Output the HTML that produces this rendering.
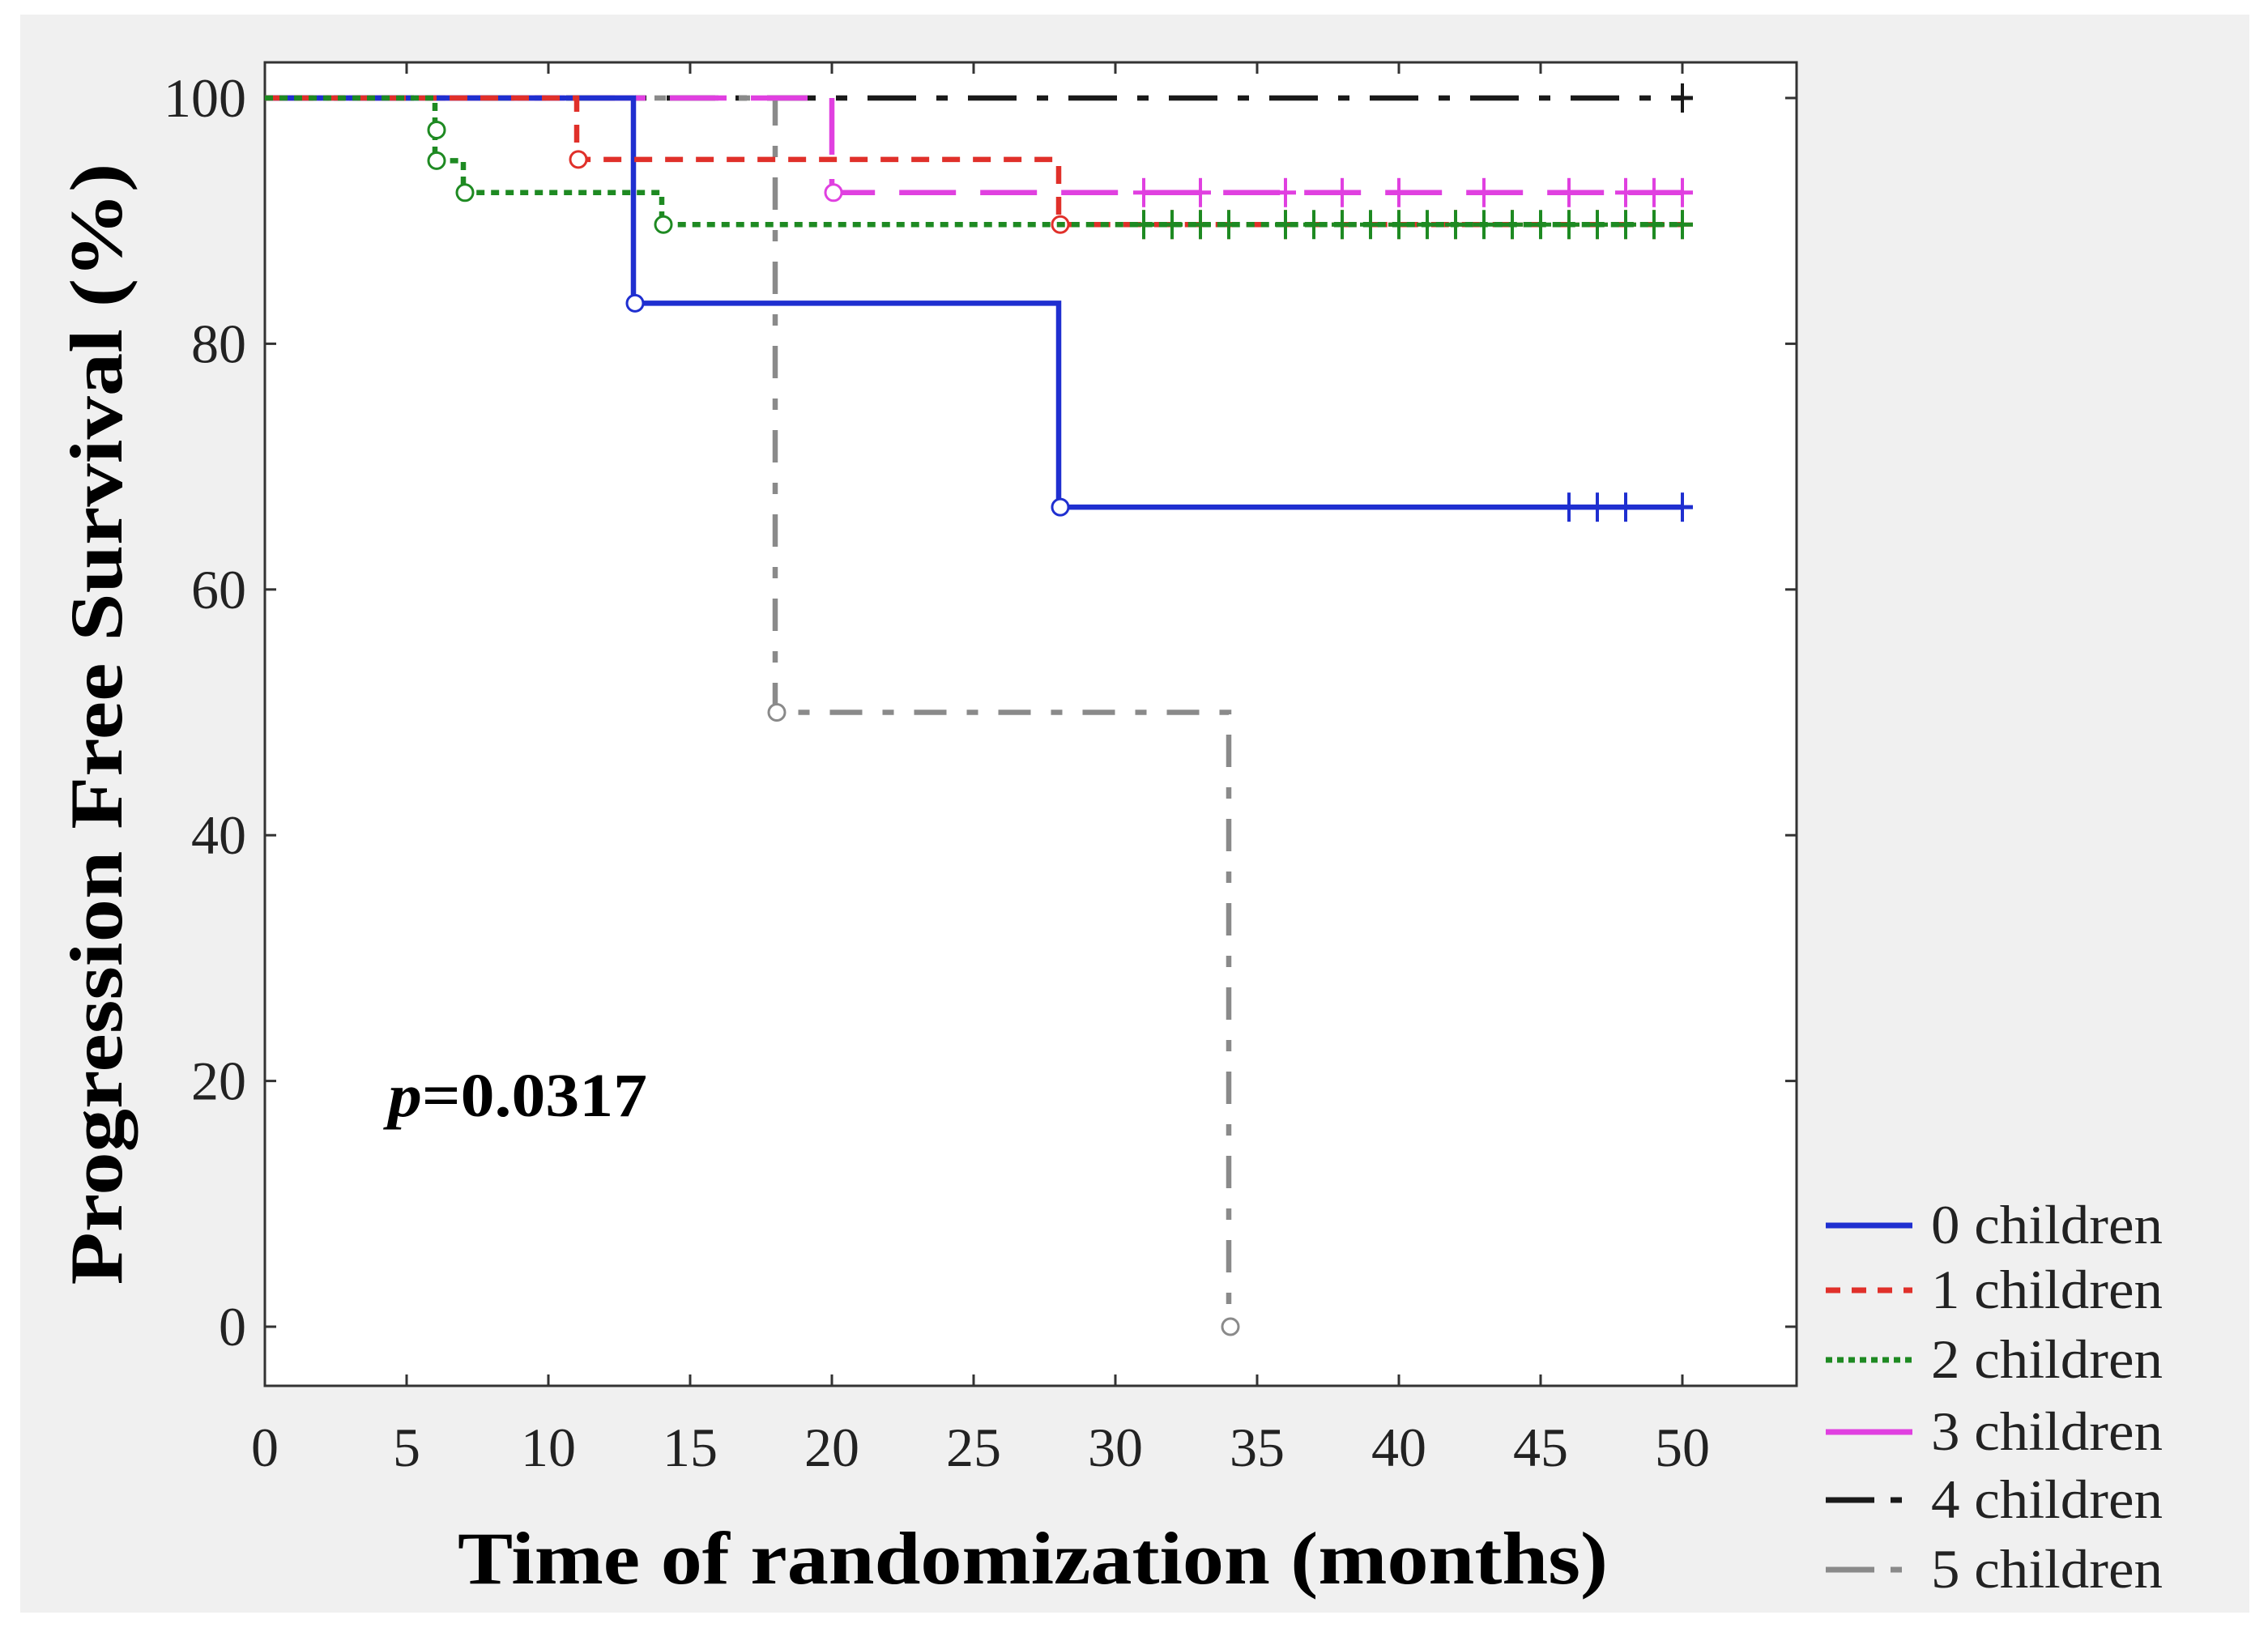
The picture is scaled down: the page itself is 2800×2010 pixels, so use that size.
<!DOCTYPE html>
<html><head><meta charset="utf-8"><style>
html,body{margin:0;padding:0;background:#fff;}
svg{display:block;font-family:"Liberation Serif",serif;}
</style></head><body>
<svg id="chart" width="2800" height="2010" viewBox="0 0 2800 2010" xmlns="http://www.w3.org/2000/svg">
<rect x="25" y="18" width="2752" height="1973" fill="#f0f0f0"/>
<rect x="327" y="77" width="1891" height="1634" fill="#fff" stroke="#333" stroke-width="3"/>
<g id="axes"></g>
<g id="series"></g>
<text transform="translate(150,894) rotate(-90)" text-anchor="middle" font-size="92" font-weight="bold" textLength="1385" lengthAdjust="spacingAndGlyphs">Progression Free Survival (%)</text>
<text x="1275" y="1955" text-anchor="middle" font-size="92" font-weight="bold" textLength="1420" lengthAdjust="spacingAndGlyphs">Time of randomization (months)</text>
<text x="479" y="1378" font-size="76" font-weight="bold" textLength="320" lengthAdjust="spacingAndGlyphs"><tspan font-style="italic">p</tspan>=0.0317</text>
<g id="legend"></g>
</svg>
<script>
const xTicks = [0,5,10,15,20,25,30,35,40,45,50];
const yTicks = [0,20,40,60,80,100];
const seriesNames = ["0 children","1 children","2 children","3 children","4 children","5 children"];
const seriesColors = ["#1f2fd0","#e0302a","#1e8a22","#e040e0","#1a1a1a","#8a8a8a"];
const seriesDash = ["none","22,16","10,8","70,30","60,25,14,25","40,25,14,25"];
// step times and survival values after each step
const s0Times = [13,28]; const s0Vals = [83.3,66.7]; const s0Cens = [46,47,48,50];
const s1Times = [11,28]; const s1Vals = [95,89.7]; const s1Cens = [31,32,33,34,36,38,40,42,44,46,47,48,49,50];
const s2Times = [6,6,7,14]; const s2Vals = [97.4,94.9,92.3,89.7]; const s2Cens = [31,32,33,34,36,37,38,39,40,41,42,43,44,45,46,47,48,49,50];
const s3Times = [20]; const s3Vals = [92.3]; const s3Cens = [31,33,36,38,40,43,46,48,49,50];
const s4Times = []; const s4Vals = []; const s4Cens = [50];
const s5Times = [18,34]; const s5Vals = [50,0]; const s5Cens = [];
const endTimes = [50,50,50,50,50,34];

const NS="http://www.w3.org/2000/svg";
const X0=327,X1=2218,Y0=77,Y1=1711;
function xs(v){return 327+v*35;}
function ys(v){return 1638-v*15.17;}
function mk(tag,attrs,parent){const e=document.createElementNS(NS,tag);for(const k in attrs)e.setAttribute(k,attrs[k]);parent.appendChild(e);return e;}
const axes=document.getElementById('axes');
xTicks.forEach(t=>{
  const g=mk('g',{},axes);
  
  
  mk('line',{x1:xs(t),x2:xs(t),y1:Y1,y2:Y1-14,stroke:'#333','stroke-width':3},g);
  mk('line',{x1:xs(t),x2:xs(t),y1:Y0,y2:Y0+14,stroke:'#333','stroke-width':3},g);
  const tx=mk('text',{x:xs(t),y:1810,'text-anchor':'middle','font-size':68,fill:'#222'},g);tx.textContent=t;
});
yTicks.forEach(t=>{
  const g=mk('g',{},axes);
  
  
  mk('line',{x1:X0,x2:X0+14,y1:ys(t),y2:ys(t),stroke:'#333','stroke-width':3},g);
  mk('line',{x1:X1,x2:X1-14,y1:ys(t),y2:ys(t),stroke:'#333','stroke-width':3},g);
  const tx=mk('text',{x:304,y:ys(t)+23,'text-anchor':'end','font-size':68,fill:'#222'},g);tx.textContent=t;
});
const allTimes=[s0Times,s1Times,s2Times,s3Times,s4Times,s5Times];
const allVals=[s0Vals,s1Vals,s2Vals,s3Vals,s4Vals,s5Vals];
const allCens=[s0Cens,s1Cens,s2Cens,s3Cens,s4Cens,s5Cens];
const ser=document.getElementById('series');
const order=[4,5,3,0,1,2];
order.forEach(i=>{
  const g=mk('g',{},ser);
  
  
  const times=allTimes[i],vals=allVals[i];
  let v=100,d='M'+xs(0)+','+ys(100);
  times.forEach((t,k)=>{d+=' L'+xs(t)+','+ys(v)+' L'+xs(t)+','+ys(vals[k]);v=vals[k];});
  d+=' L'+xs(endTimes[i])+','+ys(v);
  const p=mk('path',{d:d,fill:'none',stroke:seriesColors[i],'stroke-width':6.5},g);
  if(seriesDash[i]!=='none')p.setAttribute('stroke-dasharray',seriesDash[i]);
  times.forEach((t,k)=>{
    const c=mk('circle',{cx:xs(t)+2,cy:ys(vals[k]),r:10,fill:'#fff',stroke:seriesColors[i],'stroke-width':3},g);
    
    
  });
  allCens[i].forEach(t=>{
    let cv=100;times.forEach((tt,k)=>{if(tt<=t)cv=vals[k];});
    const l=mk('line',{x1:xs(t),x2:xs(t),y1:ys(cv)-18,y2:ys(cv)+18,stroke:seriesColors[i],'stroke-width':4},g);
    
    
    mk('line',{x1:xs(t)-13,x2:xs(t)+13,y1:ys(cv),y2:ys(cv),stroke:seriesColors[i],'stroke-width':5},g);
  });
});
const leg=document.getElementById('legend');
const legY=[1513,1593,1679,1768,1852,1938];
seriesNames.forEach((n,i)=>{
  const g=mk('g',{},leg);
  
  
  const l=mk('line',{x1:2254,x2:2361,y1:legY[i],y2:legY[i],stroke:seriesColors[i],'stroke-width':7},g);
  if(seriesDash[i]!=='none')l.setAttribute('stroke-dasharray',i===1?'18,14':i===2?'8,6':i===3?'107,0':'60,20,14,30');
  const t=mk('text',{x:2384,y:legY[i]+22,'font-size':68,fill:'#222',textLength:286,lengthAdjust:'spacingAndGlyphs'},g);
  t.textContent=n;
});
</script>
</body></html>
